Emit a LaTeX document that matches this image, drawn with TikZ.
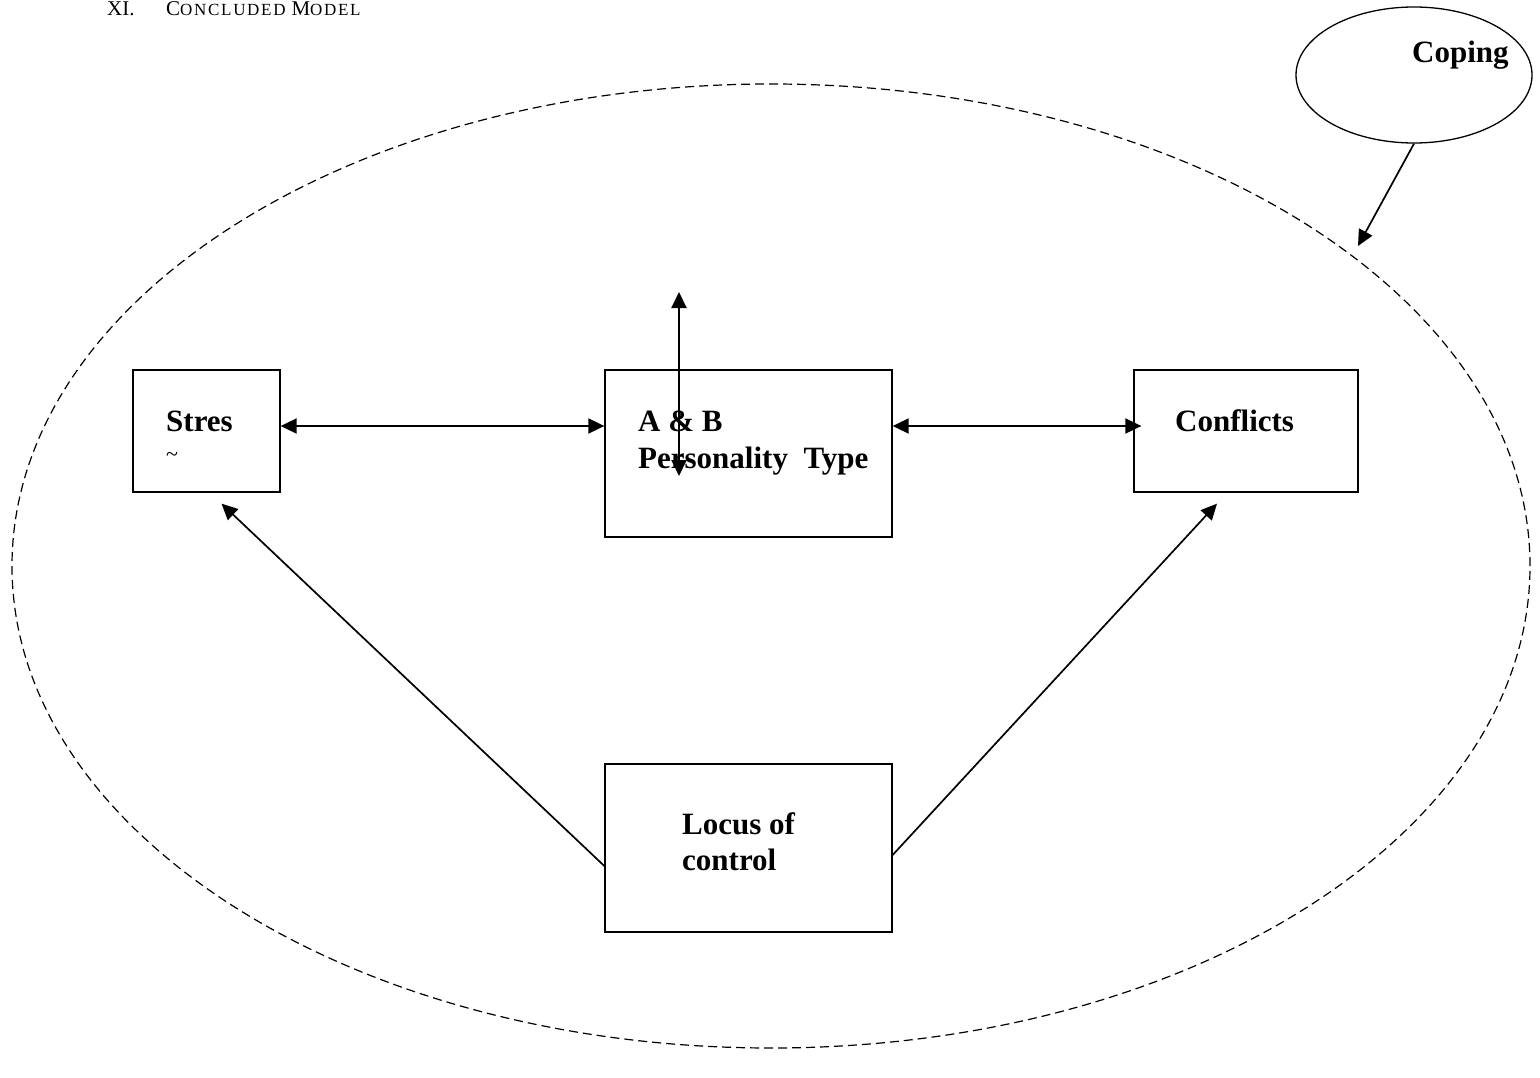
\documentclass[tikz,border=0pt]{standalone}
\usepackage{fontspec}
\setmainfont{Liberation Serif}
\newfontfamily\headfont[LetterSpace=10]{Liberation Serif}
\usetikzlibrary{shapes.geometric,arrows.meta,positioning,calc}

\begin{document}
\begin{tikzpicture}[x=1pt, y=-1pt,
  box/.style={rectangle, draw, line width=1.3pt, inner sep=0pt},
  lbl/.style={anchor=base west, inner sep=0pt, font=\fontsize{31}{36}\selectfont\bfseries},
  arr/.style={{Triangle[length=16pt,width=15pt]}-{Triangle[length=16pt,width=15pt]}, line width=1.9pt},
  one/.style={-{Triangle[length=16pt,width=15pt]}, line width=1.7pt}]
\useasboundingbox (0,0) rectangle (1540,1078);
% heading
\node[anchor=base west, inner sep=0pt, font=\fontsize{21}{24}\selectfont] (num) at (107,16) {XI.};
\node[anchor=base west, inner sep=0pt, font=\headfont] (head) at (166,16)
  {\fontsize{21}{24}\selectfont C\fontsize{17}{20}\selectfont ONCLUDED \fontsize{21}{24}\selectfont M\fontsize{17}{20}\selectfont ODEL};
% outer model and coping
\node[draw, dashed, ellipse, dash pattern=on 9pt off 5pt, line width=1.2pt,
  minimum width=1518pt, minimum height=964pt] (model) at (771,566) {};
\node[draw, ellipse, line width=1.3pt, minimum width=236pt, minimum height=136pt] (coping) at (1414,75) {};
\node[lbl] (copt) at (1412,63) {Coping};
\coordinate (cend) at (1358,246);
\draw[one] (coping.south) -- (cend);
% boxes
\node[box, minimum width=147pt, minimum height=122pt] (stres) at (206.5,431) {};
\node[box, minimum width=287pt, minimum height=167pt] (abp) at (748.5,453.5) {};
\node[box, minimum width=224pt, minimum height=122pt] (conf) at (1246,431) {};
\node[box, minimum width=287pt, minimum height=168pt] (locus) at (748.5,848) {};
\node[lbl] (strest) at (166,431) {Stres};
\node[anchor=base west, inner sep=0pt, font=\fontsize{22}{24}\selectfont] (tld) at (166,461) {\textasciitilde};
\node[lbl] (abt) at (638,431) {A \& B};
\node[lbl] (pert) at (638,468) {Personality\ \ Type};
\node[lbl] (conft) at (1175,431) {Conflicts};
\node[lbl] (locust) at (682,834) {Locus of};
\node[lbl] (ctrlt) at (682,870) {control};
% links
\coordinate (vtop) at (679,292);
\coordinate (vbot) at (679,476);
\draw[arr] (vtop) -- (vbot);
\draw[arr] ([yshift=5pt]stres.east) -- ([yshift=5pt]stres.east -| abp.west);
\draw[arr] ([yshift=5pt]stres.east -| abp.east) -- ([yshift=5pt,xshift=8pt]conf.west);
\draw[one] ([yshift=-18pt]locus.west) -- ([xshift=15pt,yshift=-11pt]stres.south);
\draw[one] ([yshift=-7pt]locus.east) -- ([xshift=-29pt,yshift=-11pt]conf.south);
\end{tikzpicture}
\end{document}
